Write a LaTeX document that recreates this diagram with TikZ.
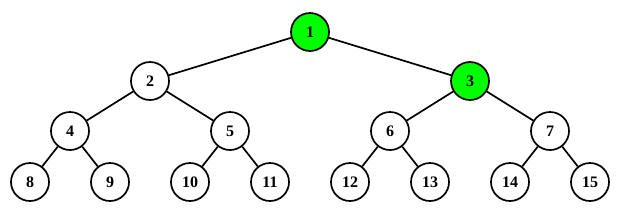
\documentclass[tikz,border=0pt]{standalone}
\usepackage{fontspec}
\setmainfont{Liberation Serif}
\begin{document}
\begin{tikzpicture}[x=1pt,y=-1pt,
  tnode/.style={circle,draw=black,line width=1.7pt,fill=white,minimum size=38pt,inner sep=0pt,font=\fontsize{16}{16}\selectfont\bfseries},
  hl/.style={fill=green},
  edge/.style={line width=1.7pt}]
\useasboundingbox (0,0) rectangle (620,210);
\node[tnode,hl] (n1) at (310,32) {1};
\node[tnode] (n2) at (150,81) {2};
\node[tnode,hl] (n3) at (470,81) {3};
\node[tnode] (n4) at (70,131) {4};
\node[tnode] (n5) at (230,131) {5};
\node[tnode] (n6) at (390,131) {6};
\node[tnode] (n7) at (550,131) {7};
\node[tnode] (n8) at (30,182) {8};
\node[tnode] (n9) at (110,182) {9};
\node[tnode] (n10) at (190,182) {10};
\node[tnode] (n11) at (270,182) {11};
\node[tnode] (n12) at (350,182) {12};
\node[tnode] (n13) at (430,182) {13};
\node[tnode] (n14) at (510,182) {14};
\node[tnode] (n15) at (590,182) {15};
\foreach \p/\c in {n1/n2,n1/n3,n2/n4,n2/n5,n3/n6,n3/n7,n4/n8,n4/n9,n5/n10,n5/n11,n6/n12,n6/n13,n7/n14,n7/n15}
  \draw[edge] (\p) -- (\c);
\end{tikzpicture}
\end{document}
